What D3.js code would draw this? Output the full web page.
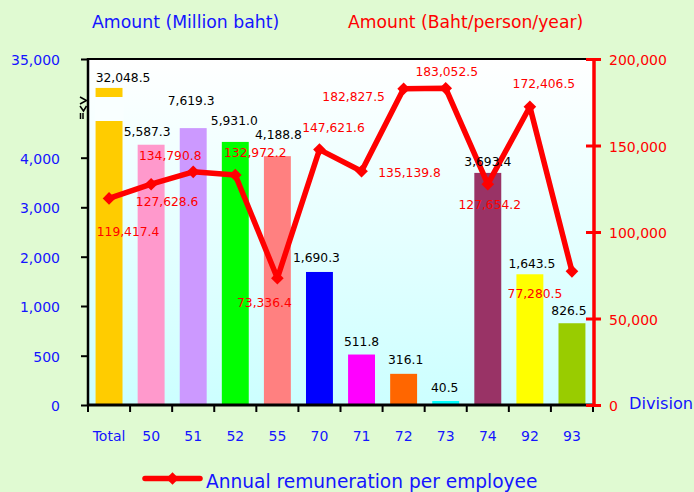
<!DOCTYPE html>
<html><head><meta charset="utf-8">
<script src="https://cdn.jsdelivr.net/npm/d3@7"></script>
<style>
body{margin:0;background:#E0FAD2;}
svg{display:block;font-family:"DejaVu Sans",Verdana,sans-serif;}
</style>
</head><body><svg id="c" width="694" height="492"></svg>
<script>
// ---- data ----
const categories = ["Total","50","51","52","55","70","71","72","73","74","92","93"];
const amountMillion = [32048.5,5587.3,7619.3,5931.0,4188.8,1690.3,511.8,316.1,40.5,3693.4,1643.5,826.5];
const perPerson = [119417.4,127628.6,134790.8,132972.2,73336.4,147621.6,135139.8,182827.5,183052.5,127654.2,172406.5,77280.5];
const leftTicks = [0,500,1000,2000,3000,4000,35000];
const rightTicks = [0,50000,100000,150000,200000];
const barColors = ["#FFCC00","#FF99CC","#CC99FF","#00FF00","#FF8080","#0000FF","#FF00FF","#FF6600","#00FFFF","#993366","#FFFF00","#99CC00"];
const leftTitle = "Amount (Million baht)";
const rightTitle = "Amount (Baht/person/year)";
const xTitle = "Division";
const legendLabel = "Annual remuneration per employee";

// ---- layout ----
const L = 88, R = 593, T = 59, B = 405, AXR = 594;
const BLUE = "#1414FF", RED = "#FF0000";
// label offsets (layout only)
const barLabelOff = [[14,-10],[-4,-13],[-2,-27],[-1,-21],[1,-21],[-3,-14],[0,-13],[2,-14],[-1,-13],[0,-11],[2,-11],[-3,-13]];
const lineLabelOff = [[19,33],[16,17],[-23,-16],[20,-22],[-13,25],[14,-22],[48,1],[-50,8],[1,-17],[2,21],[14,-23],[-37,22]];

const svg = d3.select("#c");
const defs = svg.append("defs");
const grad = defs.append("linearGradient").attr("id","pg").attr("x1",0).attr("y1",0).attr("x2",0).attr("y2",1);
grad.append("stop").attr("offset","0%").attr("stop-color","#FFFFFF");
grad.append("stop").attr("offset","100%").attr("stop-color","#CCFFFF");

const x = d3.scaleBand().domain(categories).range([L,R]).padding(0);
const step = x.bandwidth();
const barW = step*0.64;
const cx = c => x(c) + step/2;
// broken left axis: piecewise linear
const yL = d3.scaleLinear()
  .domain([0,500,1000,2000,3000,4000,8000,30000,35000])
  .range([405,355.7,306,256.7,207.3,157.7,125,108,59]);
const yR = d3.scaleLinear().domain([0,200000]).range([B,T]);

// plot background
svg.append("rect").attr("x",L).attr("y",T).attr("width",AXR-L).attr("height",B-T).attr("fill","url(#pg)");

const data = categories.map((c,i)=>({c, v:amountMillion[i], p:perPerson[i], col:barColors[i], i}));

// bars
svg.append("g").selectAll("rect").data(data).join("rect")
  .attr("x",d=>cx(d.c)-barW/2).attr("width",barW)
  .attr("y",d=>yL(d.v)).attr("height",d=>yL(0)-yL(d.v))
  .attr("fill",d=>d.col);

// axis break gap on the big bar
svg.append("rect").attr("x",cx("Total")-barW/2-1).attr("width",barW+2)
  .attr("y",97).attr("height",24).attr("fill","#F9FFFF");

// left axis
const gL = svg.append("g").attr("transform",`translate(${L},0)`)
  .call(d3.axisLeft(yL).tickValues(leftTicks).tickSize(7).tickSizeOuter(0).tickFormat(d3.format(",")));
gL.select(".domain").remove();
gL.selectAll(".tick line").attr("stroke","#000").attr("stroke-width",2);
gL.selectAll(".tick text").attr("x",-28).attr("fill",BLUE).attr("font-size",14).attr("font-family","DejaVu Sans").attr("dy","0.4em");
svg.append("line").attr("x1",L).attr("x2",L).attr("y1",T-1).attr("y2",B+1).attr("stroke","#000").attr("stroke-width",2.5);
// break mark
svg.append("path").attr("d","M80,97 L86.5,100.5 L80,104 M80,106 L83.5,111 L86.5,106 M80.5,113 L80.5,119 M83,113 L83,119")
  .attr("fill","none").attr("stroke","#000").attr("stroke-width",1.5);

// top border
svg.append("line").attr("x1",L).attr("x2",AXR).attr("y1",T).attr("y2",T).attr("stroke","#000").attr("stroke-width",2);

// bottom axis
const bounds = categories.map(c=>x(c)).concat([R]);
svg.append("g").selectAll("line").data(bounds).join("line")
  .attr("x1",d=>d).attr("x2",d=>d).attr("y1",B).attr("y2",B+7).attr("stroke","#000").attr("stroke-width",2);
svg.append("line").attr("x1",L).attr("x2",AXR).attr("y1",B).attr("y2",B).attr("stroke","#000").attr("stroke-width",3);
const gB = svg.append("g").attr("transform",`translate(0,${B})`)
  .call(d3.axisBottom(x).tickSize(0).tickPadding(26));
gB.select(".domain").remove();
gB.selectAll(".tick text").attr("fill",BLUE).attr("font-size",14).attr("font-family","DejaVu Sans");

// right axis
svg.append("line").attr("x1",AXR).attr("x2",AXR).attr("y1",T-1).attr("y2",B+2).attr("stroke",RED).attr("stroke-width",3.5);
const gR = svg.append("g").attr("transform",`translate(${AXR},0)`)
  .call(d3.axisRight(yR).tickValues(rightTicks).tickSize(7).tickSizeOuter(0).tickFormat(d3.format(",")));
gR.select(".domain").remove();
gR.selectAll(".tick line").attr("x1",-8).attr("x2",7).attr("stroke",RED).attr("stroke-width",3);
gR.selectAll(".tick text").attr("x",15).attr("fill",RED).attr("font-size",14).attr("font-family","DejaVu Sans").attr("dy","0.4em");

// line
svg.append("path").datum(data)
  .attr("d",d3.line().x(d=>cx(d.c)).y(d=>yR(d.p)))
  .attr("fill","none").attr("stroke",RED).attr("stroke-width",5.5).attr("stroke-linejoin","round");
const diamond = d3.symbol(d3.symbolSquare, 80);
svg.append("g").selectAll("path").data(data).join("path")
  .attr("d",diamond).attr("fill",RED)
  .attr("transform",d=>`translate(${cx(d.c)},${yR(d.p)}) rotate(45)`);

// bar labels
const fmt1 = d3.format(",.1f");
svg.append("g").selectAll("text").data(data).join("text")
  .attr("x",d=>cx(d.c)+barLabelOff[d.i][0]).attr("y",d=>yL(d.v)+barLabelOff[d.i][1])
  .attr("dy","0.35em").attr("text-anchor","middle").attr("font-size",12.3).attr("fill","#000")
  .text(d=>fmt1(d.v));
// line labels
svg.append("g").selectAll("text").data(data).join("text")
  .attr("x",d=>cx(d.c)+lineLabelOff[d.i][0]).attr("y",d=>yR(d.p)+lineLabelOff[d.i][1])
  .attr("dy","0.35em").attr("text-anchor","middle").attr("font-size",12.3).attr("fill",RED)
  .text(d=>fmt1(d.p));

// titles
svg.append("text").attr("x",92).attr("y",28).attr("font-size",17.3).attr("fill",BLUE).text(leftTitle);
svg.append("text").attr("x",348).attr("y",28).attr("font-size",17.2).attr("fill",RED).text(rightTitle);
svg.append("text").attr("x",629).attr("y",409).attr("font-size",16.2).attr("fill",BLUE).text(xTitle);

// legend
svg.append("line").attr("x1",145).attr("x2",200).attr("y1",478.5).attr("y2",478.5)
  .attr("stroke",RED).attr("stroke-width",5.5).attr("stroke-linecap","round");
svg.append("path").attr("d",diamond).attr("fill",RED).attr("transform","translate(172.5,478.5) rotate(45)");
svg.append("text").attr("x",206).attr("y",488).attr("font-size",18.6).attr("fill",BLUE).text(legendLabel);
</script>
</body></html>
